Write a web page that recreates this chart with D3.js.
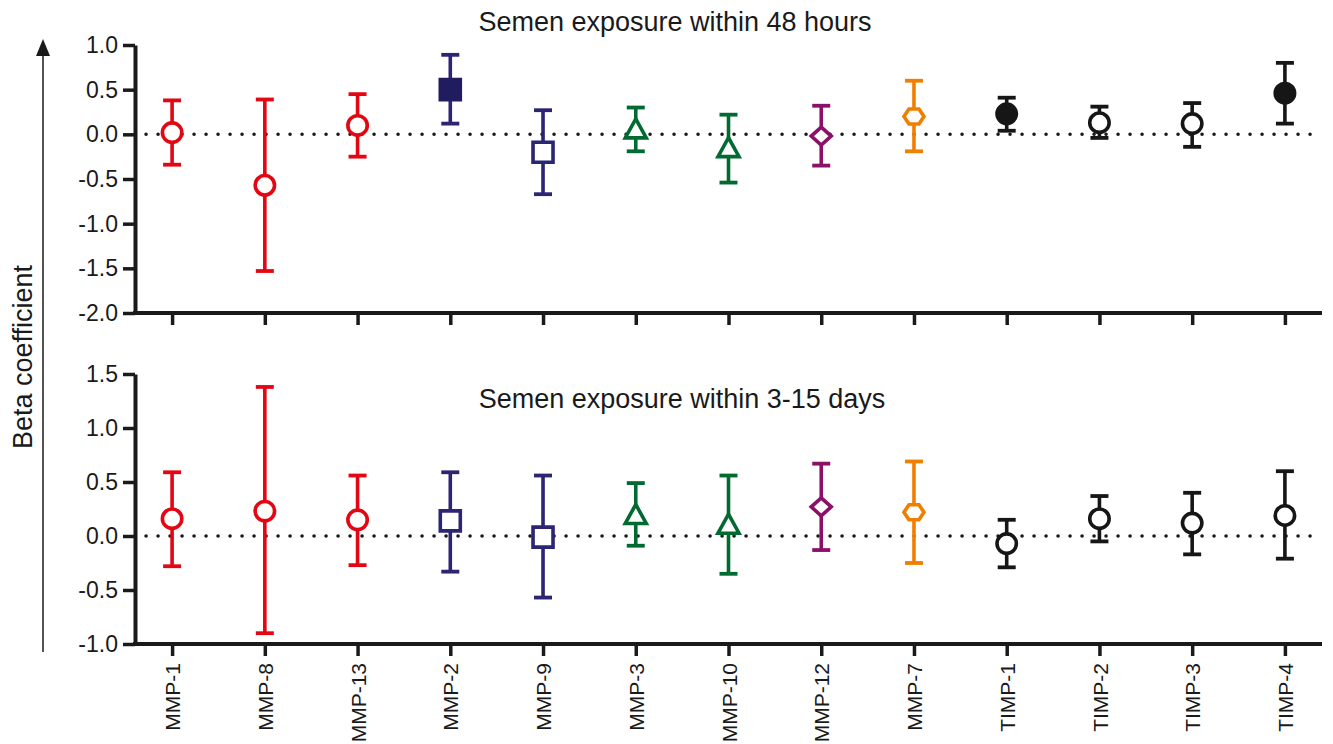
<!DOCTYPE html>
<html>
<head>
<meta charset="utf-8">
<script src="https://cdn.jsdelivr.net/npm/d3@7"></script>
<style>
  body { margin: 0; background: #fff; }
  text { font-family: "Liberation Sans", Arial, sans-serif; fill: #1a1a1a; }
</style>
</head>
<body>
<script>
// categories along the x axis
var genes = ["MMP-1", "MMP-8", "MMP-13", "MMP-2", "MMP-9", "MMP-3", "MMP-10",
             "MMP-12", "MMP-7", "TIMP-1", "TIMP-2", "TIMP-3", "TIMP-4"];

// semen exposure within 48 hours: beta, lower and upper CI
var beta48 = [0.02, -0.57, 0.10, 0.50, -0.20, 0.05, -0.16, -0.02, 0.20, 0.23, 0.13, 0.12, 0.46];
var low48  = [-0.34, -1.53, -0.25, 0.12, -0.67, -0.19, -0.54, -0.35, -0.19, 0.04, -0.04, -0.14, 0.12];
var high48 = [0.38, 0.39, 0.45, 0.89, 0.27, 0.30, 0.22, 0.32, 0.60, 0.41, 0.31, 0.35, 0.80];
// significant ones are drawn filled
var sig48  = [0, 0, 0, 1, 0, 0, 0, 0, 0, 1, 0, 0, 1];

// semen exposure within 3-15 days
var beta315 = [0.16, 0.23, 0.15, 0.14, -0.01, 0.19, 0.10, 0.27, 0.22, -0.07, 0.16, 0.12, 0.19];
var low315  = [-0.28, -0.90, -0.27, -0.33, -0.57, -0.09, -0.35, -0.13, -0.25, -0.29, -0.05, -0.17, -0.21];
var high315 = [0.59, 1.38, 0.56, 0.59, 0.56, 0.49, 0.56, 0.67, 0.69, 0.15, 0.37, 0.40, 0.60];
var sig315  = [0, 0, 0, 0, 0, 0, 0, 0, 0, 0, 0, 0, 0];

var ticks48 = [1.0, 0.5, 0.0, -0.5, -1.0, -1.5, -2.0];
var ticks315 = [1.5, 1.0, 0.5, 0.0, -0.5, -1.0];

// marker shape and colour for each gene
var shapeOf = ["circle", "circle", "circle", "square", "square", "triangle", "triangle",
               "diamond", "hexagon", "circle", "circle", "circle", "circle"];
var colorOf = ["#e30613", "#e30613", "#e30613", "#2b2574", "#2b2574", "#006a30", "#006a30",
               "#8c1068", "#f07f00", "#161616", "#161616", "#161616", "#161616"];

var w = 1333, h = 744;
var svg = d3.select("body").append("svg").attr("width", w).attr("height", h);

var x = d3.scalePoint().domain(genes).range([135, 1322]).padding(0.4);

function shapePath(s) {
  if (s == "square") return "M-10,-10H10V10H-10Z";
  if (s == "triangle") return "M0,-11L10.5,8H-10.5Z";
  if (s == "diamond") return "M0,-9L10,0L0,9L-10,0Z";
  if (s == "hexagon") return "M-10,0L-5,-7.5H5L10,0L5,7.5H-5Z";
  return null;
}

function panel(beta, low, high, sig, yDomain, yRange, yTicks, title, titleX, titleY, withLabels) {
  var y = d3.scaleLinear().domain(yDomain).range(yRange);
  var g = svg.append("g");

  // y axis
  var ya = g.append("g")
    .attr("transform", "translate(135,0)")
    .call(d3.axisLeft(y).tickValues(yTicks).tickSize(12).tickSizeOuter(0).tickPadding(5)
      .tickFormat(d3.format(".1f")));
  ya.select(".domain").attr("stroke", "#1a1a1a").attr("stroke-width", 4);
  ya.selectAll(".tick line").attr("stroke", "#1a1a1a").attr("stroke-width", 3.5);
  ya.selectAll(".tick text").style("font-size", "23px").attr("fill", "#1a1a1a")
    .text(function(d) { return d < 0 ? "-" + d3.format(".1f")(-d) : d3.format(".1f")(d); });

  // x axis
  var xa = g.append("g")
    .attr("transform", "translate(0," + yRange[0] + ")")
    .call(d3.axisBottom(x).tickSize(12).tickSizeOuter(0).tickPadding(8));
  xa.select(".domain").attr("stroke", "#1a1a1a").attr("stroke-width", 4)
    .attr("d", "M133,0H1322");
  xa.selectAll(".tick line").attr("stroke", "#1a1a1a").attr("stroke-width", 3.5);
  if (withLabels) {
    xa.selectAll(".tick text")
      .style("font-size", "21px").attr("fill", "#1a1a1a")
      .attr("text-anchor", "end")
      .attr("transform", "rotate(-90)")
      .attr("x", -19).attr("y", 0).attr("dy", "0.36em");
  } else {
    xa.selectAll(".tick text").remove();
  }

  // dotted zero line
  g.append("line")
    .attr("x1", 146).attr("x2", 1318)
    .attr("y1", y(0)).attr("y2", y(0))
    .attr("stroke", "#1a1a1a").attr("stroke-width", 3.5)
    .attr("stroke-linecap", "round").attr("stroke-dasharray", "0.1 11.9");

  // error bars
  var idx = d3.range(genes.length);
  g.selectAll(".bar").data(idx).enter().append("line")
    .attr("x1", function(i) { return x(genes[i]); })
    .attr("x2", function(i) { return x(genes[i]); })
    .attr("y1", function(i) { return y(low[i]); })
    .attr("y2", function(i) { return y(high[i]); })
    .attr("stroke", function(i) { return colorOf[i]; })
    .attr("stroke-width", 3.6);
  [low, high].forEach(function(arr) {
    g.selectAll(null).data(idx).enter().append("line")
      .attr("x1", function(i) { return x(genes[i]) - 9; })
      .attr("x2", function(i) { return x(genes[i]) + 9; })
      .attr("y1", function(i) { return y(arr[i]); })
      .attr("y2", function(i) { return y(arr[i]); })
      .attr("stroke", function(i) { return colorOf[i]; })
      .attr("stroke-width", 3.8);
  });

  // markers
  idx.forEach(function(i) {
    var s = shapeOf[i];
    var c = colorOf[i];
    if (sig[i] && s == "square") c = "#211c5f";
    var m;
    if (s == "circle") {
      m = g.append("circle").attr("r", 9.7).attr("cx", x(genes[i])).attr("cy", y(beta[i]));
    } else {
      m = g.append("path").attr("d", shapePath(s))
        .attr("transform", "translate(" + x(genes[i]) + "," + y(beta[i]) + ")");
    }
    m.attr("fill", sig[i] ? c : "#fff").attr("stroke", c).attr("stroke-width", 3.6)
      .attr("stroke-linejoin", "miter");
  });

  g.append("text").attr("x", titleX).attr("y", titleY)
    .attr("text-anchor", "middle").style("font-size", "27px").text(title);
}

panel(beta48, low48, high48, sig48, [-2, 1], [313, 45], ticks48,
      "Semen exposure within 48 hours", 675, 31, false);
panel(beta315, low315, high315, sig315, [-1, 1.5], [644, 374], ticks315,
      "Semen exposure within 3-15 days", 682, 408, true);

// y axis title and arrow
svg.append("text")
  .attr("transform", "translate(32,357) rotate(-90)")
  .attr("text-anchor", "middle").style("font-size", "27px")
  .text("Beta coefficient");
svg.append("line").attr("x1", 43).attr("x2", 43).attr("y1", 54).attr("y2", 652)
  .attr("stroke", "#1a1a1a").attr("stroke-width", 1.5);
svg.append("path").attr("d", "M43,39L36,56H50Z").attr("fill", "#1a1a1a");
</script>
</body>
</html>
